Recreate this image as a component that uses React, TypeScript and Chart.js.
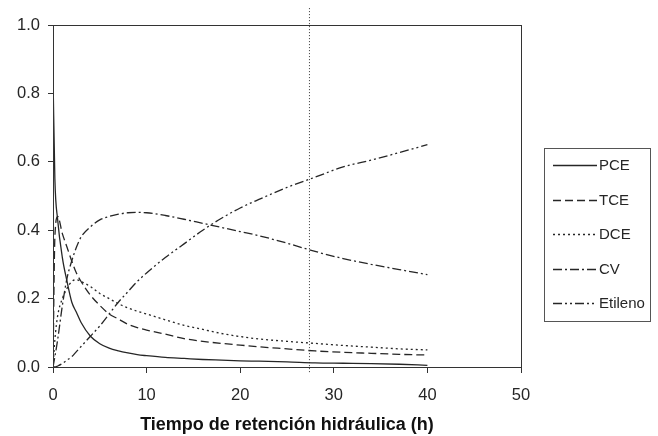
import React, { useEffect, useRef } from "react";
import { Chart, registerables } from "chart.js";

Chart.register(...registerables);

// Time (h)
const TIMES = [0, 0.2, 0.5, 1, 1.5, 2, 2.5, 3, 4, 5, 6, 7, 8, 9, 10, 12, 14, 16, 18, 20, 22, 25, 28, 31, 34, 37, 40];

const PCE = [0.85, 0.55, 0.43, 0.32, 0.25, 0.19, 0.16, 0.13, 0.09, 0.068, 0.055, 0.047, 0.041, 0.036, 0.033, 0.028, 0.025, 0.022, 0.02, 0.018, 0.017, 0.015, 0.012, 0.011, 0.01, 0.008, 0.005];
const TCE = [0, 0.38, 0.44, 0.39, 0.35, 0.31, 0.275, 0.25, 0.21, 0.18, 0.155, 0.14, 0.125, 0.115, 0.108, 0.096, 0.083, 0.075, 0.069, 0.064, 0.059, 0.053, 0.047, 0.043, 0.04, 0.037, 0.035];
const DCE = [0, 0.08, 0.15, 0.2, 0.23, 0.25, 0.255, 0.25, 0.235, 0.215, 0.2, 0.185, 0.173, 0.163, 0.155, 0.138, 0.122, 0.11, 0.098, 0.089, 0.082, 0.075, 0.069, 0.063, 0.058, 0.053, 0.05];
const CV = [0, 0.03, 0.08, 0.18, 0.26, 0.31, 0.35, 0.38, 0.41, 0.43, 0.44, 0.447, 0.451, 0.452, 0.451, 0.443, 0.432, 0.42, 0.408, 0.396, 0.384, 0.362, 0.338, 0.317, 0.3, 0.285, 0.27];
const ETILENO = [0, 0, 0.003, 0.01, 0.02, 0.03, 0.045, 0.06, 0.09, 0.12, 0.155, 0.19, 0.22, 0.25, 0.275, 0.32, 0.36, 0.4, 0.435, 0.465, 0.49, 0.525, 0.555, 0.585, 0.605, 0.627, 0.65];

const SERIES_LABELS = ["PCE", "TCE", "DCE", "CV", "Etileno"];
const SERIES_DASHES = [[], [8, 4], [2, 3], [9, 3, 2, 3], [9, 3, 2, 3, 2, 3]];

// Vertical reference line (h) and its vertical extent
const REF_X = 27.4;
const REF_Y = [-0.015, 1.05];

const X_TITLE = "Tiempo de retención hidráulica (h)";
const FONT = "'Liberation Sans', Arial, sans-serif";
const INK = "#262626";

const frameAndLegend = {
  id: "frameAndLegend",
  afterDraw(chart: any) {
    const { ctx, chartArea } = chart;
    ctx.save();
    ctx.strokeStyle = "#333";
    ctx.lineWidth = 1;
    ctx.setLineDash([]);
    ctx.strokeRect(
      Math.round(chartArea.left) + 0.5,
      Math.round(chartArea.top) + 0.5,
      Math.round(chartArea.right - chartArea.left),
      Math.round(chartArea.bottom - chartArea.top)
    );
    // legend box
    const bx = 544, by = 148, bw = 106, bh = 173;
    ctx.strokeStyle = "#555";
    ctx.strokeRect(bx + 0.5, by + 0.5, bw, bh);
    ctx.font = `15px ${FONT}`;
    ctx.textBaseline = "middle";
    ctx.fillStyle = INK;
    const items = chart.data.datasets.filter((d: any) => d.label);
    items.forEach((d: any, i: number) => {
      const y = Math.round(by + 17 + i * 34.5) + 0.5;
      ctx.strokeStyle = d.borderColor;
      ctx.lineWidth = d.borderWidth;
      ctx.setLineDash(d.borderDash || []);
      ctx.beginPath();
      ctx.moveTo(bx + 9, y);
      ctx.lineTo(bx + 53, y);
      ctx.stroke();
      ctx.setLineDash([]);
      ctx.fillText(d.label, bx + 55, y);
    });
    ctx.restore();
  },
};

export default function App() {
  const ref = useRef<HTMLCanvasElement>(null);
  useEffect(() => {
    if (!ref.current) return;
    const values = [PCE, TCE, DCE, CV, ETILENO];
    const datasets: any[] = values.map((arr, i) => ({
      label: SERIES_LABELS[i],
      data: TIMES.map((t, j) => ({ x: t, y: arr[j] })),
      borderColor: INK,
      borderWidth: 1.3,
      borderDash: SERIES_DASHES[i],
      pointRadius: 0,
      cubicInterpolationMode: "monotone",
      fill: false,
    }));
    datasets.push({
      label: "",
      data: [
        { x: REF_X, y: REF_Y[0] },
        { x: REF_X, y: REF_Y[1] },
      ],
      borderColor: "#333",
      borderWidth: 1,
      borderDash: [1, 2],
      pointRadius: 0,
      clip: false,
    });
    const chart = new Chart(ref.current, {
      type: "line",
      data: { datasets },
      plugins: [frameAndLegend],
      options: {
        responsive: false,
        animation: false,
        layout: { padding: { top: 25, right: 137, left: 0, bottom: 0 } },
        plugins: { legend: { display: false }, tooltip: { enabled: false } },
        scales: {
          x: {
            type: "linear",
            min: 0,
            max: 50,
            ticks: { stepSize: 10, font: { size: 16.5, family: FONT }, color: INK, padding: 13, maxRotation: 0 },
            grid: { drawOnChartArea: false, drawTicks: true, tickLength: 6, color: "#333" },
            border: { display: true, color: "#333" },
            title: {
              display: true,
              text: X_TITLE,
              font: { size: 18, weight: "bold", family: FONT },
              color: "#111",
              padding: 0,
            },
            afterFit: (s: any) => {
              s.height = 69;
            },
          },
          y: {
            min: 0,
            max: 1,
            ticks: {
              stepSize: 0.2,
              font: { size: 16.5, family: FONT },
              color: INK,
              padding: 8,
              callback: (v: any) => Number(v).toFixed(1),
            },
            grid: { drawOnChartArea: false, drawTicks: true, tickLength: 5, color: "#333" },
            border: { display: true, color: "#333" },
            afterFit: (s: any) => {
              s.width = 53;
            },
          },
        },
      } as any,
    });
    return () => chart.destroy();
  }, []);
  return (
    <div style={{ position: "fixed", left: 0, top: 0, width: 658, height: 436, background: "#fff" }}>
      <canvas ref={ref} width={658} height={436} />
    </div>
  );
}
